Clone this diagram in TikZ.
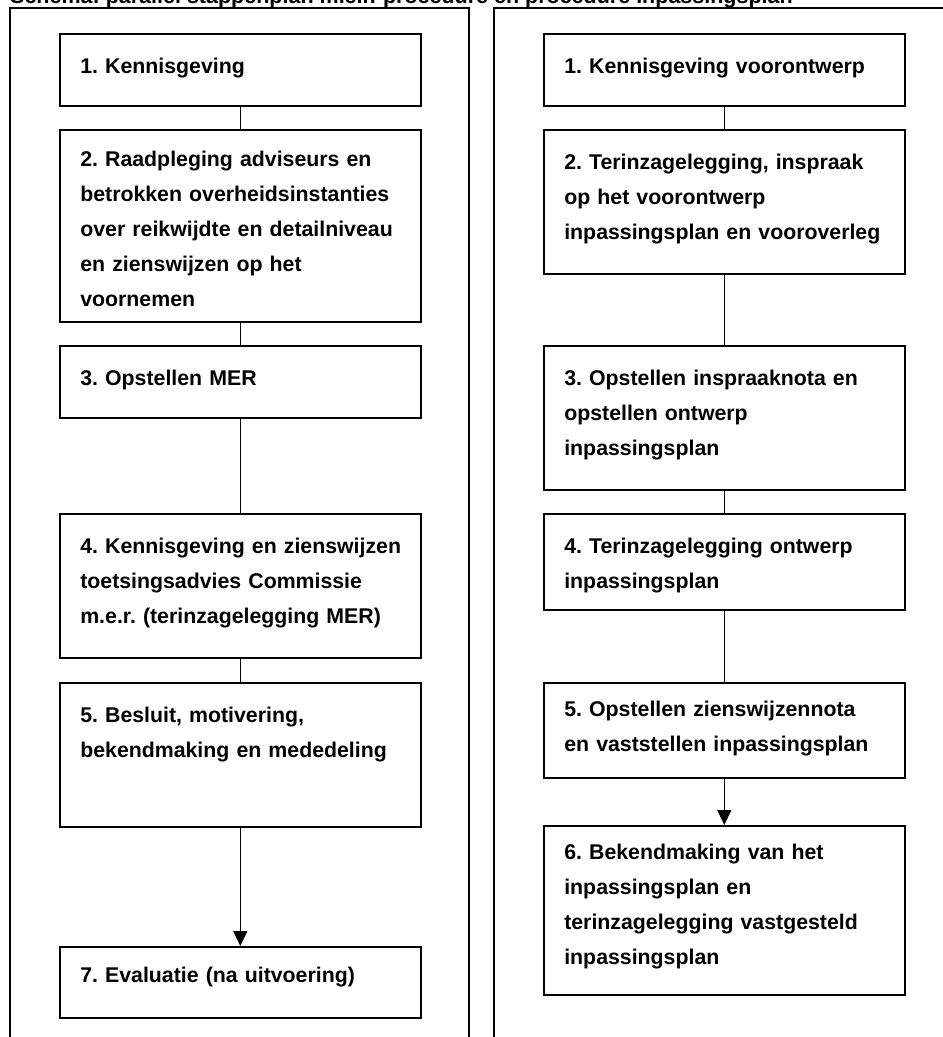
\documentclass[tikz,border=0pt]{standalone}
\usepackage{fontspec}
\setmainfont{Liberation Sans}
\usetikzlibrary{arrows.meta}
\frenchspacing

\begin{document}
\begin{tikzpicture}[x=1pt,y=-1pt]
\tikzstyle{every node}=[font=\bfseries\fontsize{21.3}{35}\selectfont]
\tikzstyle{stepbox}=[draw, line width=1.6pt, anchor=north west, inner xsep=20.5pt, inner ysep=0pt, text width=320pt, align=left]
\tikzstyle{link}=[line width=1.3pt]
\tikzstyle{frame}=[line width=2pt]
\useasboundingbox (0,0) rectangle (943,1037);
\draw (10,3) node (title) [anchor=base west, inner sep=0pt, font=\bfseries\fontsize{21.5}{26}\selectfont] {Schema: parallel stappenplan m.e.r.-procedure en procedure inpassingsplan};
\draw[frame] (10,1045) -- (10,8) -- (469,8) -- (469,1045);
\draw[frame] (494,1045) -- (494,8) -- (960,8);
% m.e.r.-procedure
\draw (59,33) node (l1) [stepbox, text height=40pt, text depth=32pt] {1. Kennisgeving};
\draw (59,129) node (l2) [stepbox, text height=37pt, text depth=155pt] {2. Raadpleging adviseurs en\\betrokken overheidsinstanties\\over reikwijdte en detailniveau\\en zienswijzen op het\\voornemen};
\draw (59,345) node (l3) [stepbox, text height=40pt, text depth=32pt] {3. Opstellen MER};
\draw (59,513) node (l4) [stepbox, text height=40pt, text depth=104pt] {\mbox{4. Kennisgeving en zienswijzen}\\toetsingsadvies Commissie\\m.e.r. (terinzagelegging MER)};
\draw (59,682) node (l5) [stepbox, text height=40pt, text depth=104pt] {5. Besluit, motivering,\\bekendmaking en mededeling};
\draw (59,946) node (l7) [stepbox, text height=36pt, text depth=35pt] {7. Evaluatie (na uitvoering)};
% procedure inpassingsplan
\draw (543,33) node (r1) [stepbox, text height=40pt, text depth=32pt] {1. Kennisgeving voorontwerp};
\draw (543,129) node (r2) [stepbox, text height=40pt, text depth=104pt] {2. Terinzagelegging, inspraak\\op het voorontwerp\\\mbox{inpassingsplan en vooroverleg}};
\draw (543,345) node (r3) [stepbox, text height=40pt, text depth=104pt] {3. Opstellen inspraaknota en\\opstellen ontwerp\\inpassingsplan};
\draw (543,513) node (r4) [stepbox, text height=40pt, text depth=56pt] {4. Terinzagelegging ontwerp\\inpassingsplan};
\draw (543,682) node (r5) [stepbox, text height=34pt, text depth=61pt] {5. Opstellen zienswijzennota\\en vaststellen inpassingsplan};
\draw (543,825) node (r6) [stepbox, text height=34pt, text depth=135pt] {6. Bekendmaking van het\\inpassingsplan en\\terinzagelegging vastgesteld\\inpassingsplan};
\draw[link] (l1) -- (l2);
\draw[link] (l2) -- (l3);
\draw[link] (l3) -- (l4);
\draw[link] (l4) -- (l5);
\draw[link, -{Triangle[width=14pt,length=15pt]}] (l5) -- (l7);
\draw[link] (r1) -- (r2);
\draw[link] (r2) -- (r3);
\draw[link] (r3) -- (r4);
\draw[link] (r4) -- (r5);
\draw[link, -{Triangle[width=14pt,length=15pt]}] (r5) -- (r6);
\end{tikzpicture}
\end{document}
